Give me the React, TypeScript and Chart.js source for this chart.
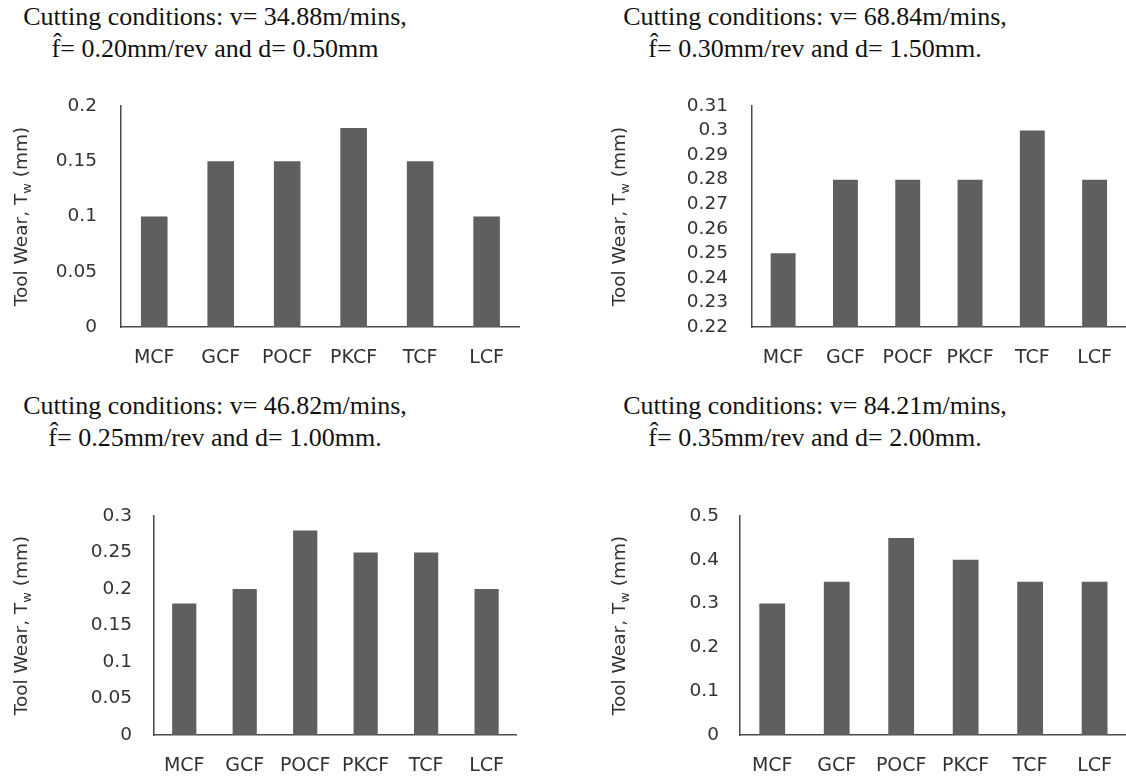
import React, { useEffect, useRef } from "react";
import { Chart, registerables } from "chart.js";

Chart.register(...registerables);

// ---------- data ----------
const categories = ["MCF", "GCF", "POCF", "PKCF", "TCF", "LCF"];

const wearA = [0.1, 0.15, 0.15, 0.18, 0.15, 0.1];
const wearB = [0.25, 0.28, 0.28, 0.28, 0.3, 0.28];
const wearC = [0.18, 0.2, 0.28, 0.25, 0.25, 0.2];
const wearD = [0.3, 0.35, 0.45, 0.4, 0.35, 0.35];

const titleA = ["Cutting conditions: v= 34.88m/mins,", "f\u0302= 0.20mm/rev and d= 0.50mm"];
const titleB = ["Cutting conditions: v= 68.84m/mins,", "f\u0302= 0.30mm/rev and d= 1.50mm."];
const titleC = ["Cutting conditions: v= 46.82m/mins,", "f\u0302= 0.25mm/rev and d= 1.00mm."];
const titleD = ["Cutting conditions: v= 84.21m/mins,", "f\u0302= 0.35mm/rev and d= 2.00mm."];

const rangeA = [0, 0.2, 0.05];
const rangeB = [0.22, 0.31, 0.01];
const rangeC = [0, 0.3, 0.05];
const rangeD = [0, 0.5, 0.1];

const yTitleParts = ["Tool Wear, T", "w", " (mm)"];

// ---------- plugin: rotated y title with subscript ----------
const yTitlePlugin = {
  id: "yTitleSub",
  afterDraw(chart: any, _args: any, opts: any) {
    if (!opts || opts.x == null) return;
    const { ctx, chartArea } = chart;
    const size = opts.size;
    const main = `${size}px "DejaVu Sans"`;
    const sub = `${Math.round(size * 0.68)}px "DejaVu Sans"`;
    const parts: [string, string, number][] = [
      [yTitleParts[0], main, 0],
      [yTitleParts[1], sub, size * 0.3],
      [yTitleParts[2], main, 0],
    ];
    ctx.save();
    let total = 0;
    const widths = parts.map((p) => {
      ctx.font = p[1];
      const w = ctx.measureText(p[0]).width;
      total += w;
      return w;
    });
    ctx.translate(opts.x, (chartArea.top + chartArea.bottom) / 2);
    ctx.rotate(-Math.PI / 2);
    ctx.fillStyle = opts.color;
    ctx.textBaseline = "middle";
    ctx.textAlign = "left";
    let x = -total / 2;
    parts.forEach((p, i) => {
      ctx.font = p[1];
      ctx.fillText(p[0], x, p[2]);
      x += widths[i];
    });
    ctx.restore();
  },
};

type PanelProps = {
  values: number[];
  range: number[];
  left: number;
  top: number;
  width: number;
  height: number;
  yAxisWidth: number;
  plotTopPad: number;
  xAxisHeight: number;
  tickPad: number;
  yTitleX: number;
};

function Panel(p: PanelProps) {
  const ref = useRef<HTMLCanvasElement | null>(null);
  useEffect(() => {
    if (!ref.current) return;
    const chart = new Chart(ref.current, {
      type: "bar",
      data: {
        labels: categories,
        datasets: [
          {
            data: p.values,
            backgroundColor: "#5f5f5f",
            borderWidth: 0,
            barPercentage: 0.4,
            categoryPercentage: 1.0,
          },
        ],
      },
      options: {
        animation: false,
        responsive: false,
        devicePixelRatio: 1,
        layout: { padding: { left: 0, right: 0, top: p.plotTopPad, bottom: 0 } },
        plugins: {
          legend: { display: false },
          tooltip: { enabled: false },
          title: { display: false },
          yTitleSub: { x: p.yTitleX, size: 18.5, color: "#333333" },
        } as any,
        scales: {
          x: {
            grid: { display: false, drawTicks: false, tickLength: 0 },
            border: { display: true, color: "#4a4a4a", width: 1.5 },
            ticks: {
              color: "#333333",
              padding: 20,
              font: { family: "DejaVu Sans", size: 19 },
              maxRotation: 0,
              autoSkip: false,
            },
            afterFit: (s: any) => {
              s.height = p.xAxisHeight;
            },
          },
          y: {
            min: p.range[0],
            max: p.range[1],
            grid: { display: false, drawTicks: false, tickLength: 0 },
            border: { display: true, color: "#4a4a4a", width: 1.5 },
            ticks: {
              stepSize: p.range[2],
              autoSkip: false,
              color: "#333333",
              padding: p.tickPad,
              font: { family: "DejaVu Sans", size: 18.5 },
              callback: (v: any) => String(Number(Number(v).toFixed(3))),
            },
            afterFit: (s: any) => {
              s.width = p.yAxisWidth;
              s.paddingTop = 8;
              s.paddingBottom = 8;
            },
          },
        },
      },
      plugins: [yTitlePlugin],
    });
    return () => chart.destroy();
  }, []);
  return (
    <canvas
      ref={ref}
      width={p.width}
      height={p.height}
      style={{ position: "absolute", left: p.left, top: p.top, width: p.width, height: p.height }}
    />
  );
}

function Title({ lines, left, top }: { lines: string[]; left: number; top: number }) {
  return (
    <div
      style={{
        position: "absolute",
        left,
        top,
        width: 430,
        textAlign: "center",
        fontFamily: '"Liberation Serif", "Times New Roman", serif',
        fontSize: 26,
        lineHeight: "32px",
        color: "#111",
        whiteSpace: "nowrap",
      }}
    >
      {lines.map((l, i) => (
        <div key={i}>{l}</div>
      ))}
    </div>
  );
}

export default function App() {
  return (
    <div
      style={{
        position: "fixed",
        left: 0,
        top: 0,
        width: 1126,
        height: 778,
        overflow: "hidden",
        background: "#ffffff",
      }}
    >
      <Title lines={titleA} left={0} top={1} />
      <Title lines={titleB} left={600} top={1} />
      <Title lines={titleC} left={0} top={390} />
      <Title lines={titleD} left={600} top={390} />

      <Panel values={wearA} range={rangeA} left={0} top={90} width={524} height={290}
        yAxisWidth={121} plotTopPad={16} xAxisHeight={53} tickPad={24} yTitleX={22} />
      <Panel values={wearB} range={rangeB} left={600} top={90} width={532} height={290}
        yAxisWidth={152} plotTopPad={16} xAxisHeight={53} tickPad={24} yTitleX={20} />
      <Panel values={wearC} range={rangeC} left={0} top={500} width={524} height={278}
        yAxisWidth={154} plotTopPad={16} xAxisHeight={43} tickPad={22} yTitleX={22} />
      <Panel values={wearD} range={rangeD} left={600} top={500} width={532} height={278}
        yAxisWidth={140} plotTopPad={16} xAxisHeight={43} tickPad={21} yTitleX={20} />
    </div>
  );
}
